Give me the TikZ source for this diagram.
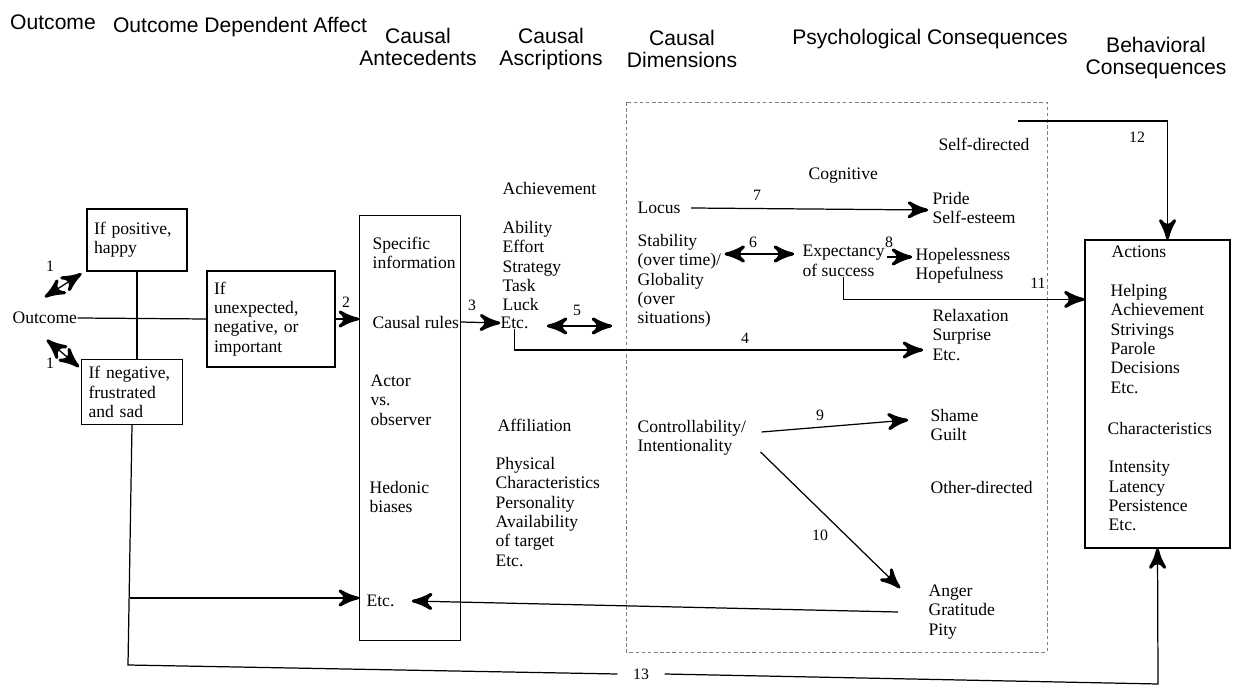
\documentclass[tikz,border=0pt]{standalone}
\usepackage{fontspec}
\setmainfont{Liberation Serif}
\newfontfamily\headfamily{Liberation Sans}
\usetikzlibrary{arrows}
\usetikzlibrary{decorations.markings}
\usetikzlibrary{calc}
\tikzset{->/.style = {decoration={markings,
                                  mark=at position 1 with {\arrow[scale=2.5]{stealth'}}},
                      postaction={decorate}}}
\tikzset{<->/.style = {decoration={markings,
                                   mark=at position 0 with {\arrowreversed[scale=2.5]{stealth'}},
                                   mark=at position 1 with {\arrow[scale=2.5]{stealth'}}},
                       postaction={decorate}}}
\tikzset{head/.style = {font=\headfamily\fontsize{12}{12.5}\selectfont, align=center, inner sep=0}}
\tikzset{txt/.style = {font=\fontsize{10}{11}\selectfont, align=left, anchor=west, inner sep=0}}
\tikzset{num/.style = {font=\fontsize{9}{10}\selectfont, inner sep=1pt}}
\tikzset{box/.style = {draw, font=\fontsize{10}{11}\selectfont, align=left, inner xsep=4pt}}
\tikzset{dashbox/.style = {draw=gray, line width=0.5pt, dash pattern=on 2pt off 1.5pt}}

\begin{document}
\begin{tikzpicture}[x=0.02cm, y=-0.02cm, line width=0.7pt]
  \useasboundingbox (0,0) rectangle (1243,688);

  % column heads
  \node [head] (hOut) at (53,22) {Outcome};
  \node [head] (hAffect) at (240,27) {Outcome Dependent Affect};
  \node [head] (hAnte) at (418,47) {Causal\\Antecedents};
  \node [head] (hAscr) at (551,49) {Causal\\Ascriptions};
  \node [head] (hDims) at (682,49) {Causal\\Dimensions};
  \node [head] (hPsych) at (930,39) {Psychological Consequences};
  \node [head] (hBehav) at (1156,58) {Behavioral\\Consequences};

  % outcome and affect
  \node [txt] (outcome) at (12,318) {Outcome};
  \node [box, text width=1.72cm, minimum height=1.24cm] (pos) at (137,240) {If positive,\\happy};
  \node [box, text width=1.74cm, minimum height=1.3cm] (neg) at (132,392) {If negative,\\frustrated\\and sad};
  \node [box, text width=2.28cm, minimum height=1.92cm] (unexp) at (271,319) {If\\unexpected,\\negative, or\\important};

  % antecedents
  \node [draw, minimum width=2.02cm, minimum height=8.5cm] (ante) at (410,428) {};
  \node [txt] (spec) at (372,253) {Specific\\information};
  \node [txt] (rules) at (372,322) {Causal rules};
  \node [txt] (actor) at (370,400) {Actor\\vs.\\observer};
  \node [txt] (hedon) at (369,497) {Hedonic\\biases};
  \node [txt] (anEtc) at (366,601) {Etc.};

  % ascriptions
  \node [txt] (achv) at (502,188) {Achievement};
  \node [txt] (abil) at (502,266) {Ability\\Effort\\Strategy\\Task\\Luck};
  \node [txt] (asEtc) at (500,323) {Etc.};
  \node [txt] (affil) at (497,425) {Affiliation};
  \node [txt] (phys) at (495,512) {Physical\\Characteristics\\Personality\\Availability\\of target\\Etc.};

  % dimensions and psychological consequences
  \draw [dashbox] (626,102) rectangle (1047,652);
  \node [txt] (locus) at (637,208) {Locus};
  \node [txt] (stab) at (637,281) {Stability\\(over time)/\\Globality\\(over\\situations)};
  \node [txt] (ctrl) at (637,438) {Controllability/\\Intentionality};
  \node [txt] (selfd) at (938,144) {Self-directed};
  \node [txt] (cogn) at (808,176) {Cognitive};
  \node [txt] (pride) at (932,208) {Pride\\Self-esteem};
  \node [txt] (expect) at (802,261) {Expectancy\\of success};
  \node [txt] (hope) at (915,266) {Hopelessness\\Hopefulness};
  \node [txt] (relax) at (932,335) {Relaxation\\Surprise\\Etc.};
  \node [txt] (shame) at (930,425) {Shame\\Guilt};
  \node [txt] (otherd) at (930,487) {Other-directed};
  \node [txt] (anger) at (928,612) {Anger\\Gratitude\\Pity};

  % behavioral consequences
  \node [draw, minimum width=2.9cm, minimum height=6.16cm] (act) at (1157.5,394) {};
  \node [txt] (actT) at (1111,252) {Actions};
  \node [txt] (actL) at (1110,339) {Helping\\Achievement\\Strivings\\Parole\\Decisions\\Etc.};
  \node [txt] (actC) at (1107,428) {Characteristics};
  \node [txt] (actM) at (1108,496) {Intensity\\Latency\\Persistence\\Etc.};

  % path numbers
  \node [num] (n1a) at (50,266) {1};
  \node [num] (n1b) at (50,363) {1};
  \node [num] (n2) at (346,302) {2};
  \node [num] (n3) at (472,305) {3};
  \node [num] (n4) at (745,338) {4};
  \node [num] (n5) at (577,310) {5};
  \node [num] (n6) at (753,242) {6};
  \node [num] (n7) at (757,195) {7};
  \node [num] (n8) at (889,242) {8};
  \node [num] (n9) at (820,415) {9};
  \node [num] (n10) at (820,535) {10};
  \node [num] (n11) at (1038,283) {11};
  \node [num] (n12) at (1137,137) {12};
  \node [num, inner xsep=0.3cm] (n13) at (641,674) {13};

  \coordinate (o1a) at (45,297);
  \coordinate (o1b) at (47,340);
  \coordinate (c13) at (128,665);
  \coordinate (c13r) at (1158,684);
  \coordinate (cEtc) at (130,598);
  \coordinate (c5) at (612,326);
  \coordinate (c12) at (1018,121);

  \draw [<->] (o1a) -- ($(pos.south west)+(-5,2)$);
  \draw [<->] (o1b) -- ($(neg.north west)+(-2,8)$);
  \draw (outcome.east) -- (unexp.west);
  \draw (pos.south) -- (pos.south |- neg.north);
  \draw (neg.south) -- (c13) -- (n13.west);
  \draw [->] (n13.east) -- (c13r) -- (act.south);
  \draw [->] (cEtc) -- (cEtc -| ante.west);
  \draw [->] ($(anger.west)+(-30,0)$) -- ($(anEtc.east)+(17,0)$);
  \draw [->] (unexp.east) -- (unexp.east -| ante.west);
  \draw [->] (rules.east -| ante.east) -- (asEtc.west);
  \draw [<->] ($(asEtc.east)+(18,3)$) -- (c5);
  \draw [->] (asEtc.south) |- ($(relax.west)+(-9,15)$);
  \draw [->] ($(locus.east)+(10,0)$) -- ($(pride.west)+(-4,2)$);
  \draw [<->] ($(stab.east |- expect.west)+(3,-7)$) -- ($(expect.west)+(-8,-7)$);
  \draw [->] ($(expect.east)+(2,-4)$) -- ($(hope.west)+(-3,-9)$);
  \draw [->] (expect.south) |- ($(act.north west)+(0,60)$);
  \draw [->] (c12) -| ($(act.north)+(10,0)$);
  \draw [->] ($(ctrl.east)+(15,-6)$) -- ($(shame.west)+(-22,-5)$);
  \draw [->] ($(ctrl.east)+(14,14)$) -- ($(anger.west)+(-28,-24)$);
\end{tikzpicture}
\end{document}
